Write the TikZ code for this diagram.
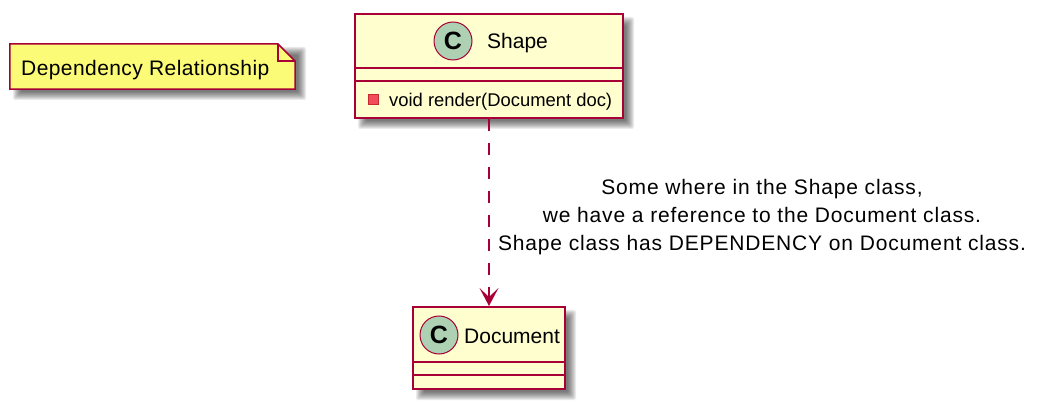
\documentclass[tikz,border=0pt]{standalone}
\usepackage{fontspec}
\setmainfont{Liberation Sans}
\newfontfamily\notefont[LetterSpace=2]{Liberation Sans}
\newfontfamily\labelfont[LetterSpace=4]{Liberation Sans}
\definecolor{umlline}{HTML}{A80036}
\definecolor{umlfill}{HTML}{FEFECE}
\definecolor{notefill}{HTML}{FBFB77}
\definecolor{spotfill}{HTML}{ADD1B2}
\definecolor{markfill}{HTML}{F24D5C}
\definecolor{markline}{HTML}{C82930}
\tikzset{
  classbox/.style={draw=umlline,fill=umlfill,line width=2pt,inner sep=0pt},
  sep/.style={draw=umlline,line width=2pt},
  spot/.style={circle,draw=umlline,fill=spotfill,line width=1pt,minimum size=38pt,inner sep=0pt,font=\fontsize{25}{25}\selectfont\bfseries},
  title/.style={inner sep=0pt,font=\fontsize{21}{21}\selectfont},
  notepath/.style={draw=umlline,fill=notefill,line width=1.5pt},
  shadowlayer/.style={fill=black,fill opacity=0.08,draw=none},
  dep/.style={draw=umlline,line width=1.5pt},
}
\newcommand{\softshadow}[4]{%
  \foreach \g in {-4,-3,-2,-1,0,1,2,3,4}{
    \fill[shadowlayer,rounded corners=2pt] ({#1+7-\g},{#2+7-\g}) rectangle ({#3+7+\g},{#4+7+\g});
  }}
\begin{document}
\begin{tikzpicture}[x=1pt,y=-1pt]
\useasboundingbox (0,0) rectangle (1045,406);
\softshadow{10}{44}{295}{89}
\softshadow{355}{14}{623}{118}
\softshadow{413}{307}{565}{389}

% note
\node[inner sep=0pt,minimum width=285pt,minimum height=45pt] (note) at (152.5,66.5) {};
\coordinate (foldtop) at (278,44);
\coordinate (foldin) at (278,61);
\coordinate (foldright) at (295,61);
\draw[notepath,line join=miter] (note.north west) -- (foldtop) -- (foldright) -- (note.south east) -- (note.south west) -- cycle;
\draw[umlline,line width=1.5pt] (foldtop) -- (foldin) -- (foldright);
\node[title,font=\notefont\fontsize{21}{21}\selectfont,anchor=base west] (notetext) at (21,76) {Dependency Relationship};

% Shape
\node[classbox,minimum width=268pt,minimum height=104pt] (shape) at (489,66) {};
\draw[sep] (355,68) -- (623,68);
\draw[sep] (355,81) -- (623,81);
\node[spot] (shapespot) at (453,41) {C};
\node[title,anchor=base west] (shapetitle) at (487,49) {Shape};
\node[rectangle,draw=markline,fill=markfill,line width=1pt,minimum size=10pt,inner sep=0pt] (mark) at (373.5,100) {};
\node[inner sep=0pt,anchor=base west,font=\fontsize{18.4}{18.4}\selectfont] (method) at (389,107) {void render(Document doc)};

% Document
\node[classbox,minimum width=152pt,minimum height=82pt] (document) at (489,348) {};
\draw[sep] (413,362) -- (565,362);
\draw[sep] (413,375) -- (565,375);
\node[spot] (docspot) at (439,335) {C};
\node[title,anchor=base west] (doctitle) at (464,343) {Document};

% connector
\coordinate (notch) at ([yshift=9pt]document.north);
\coordinate (barbl) at ([shift={(-9.5pt,18pt)}]document.north);
\coordinate (barbr) at ([shift={(9.5pt,18pt)}]document.north);
\draw[dep,dash pattern=on 12pt off 12pt] (shape.south) -- (notch);
\fill[umlline] (document.north) -- (barbl) -- (notch) -- (barbr) -- cycle;

% label
\node[align=center,inner sep=0pt,font=\labelfont\fontsize{21}{28}\selectfont] (label) at (762,217) {Some where in the Shape class,\\we have a reference to the Document class.\\Shape class has DEPENDENCY on Document class.};
\end{tikzpicture}
\end{document}
